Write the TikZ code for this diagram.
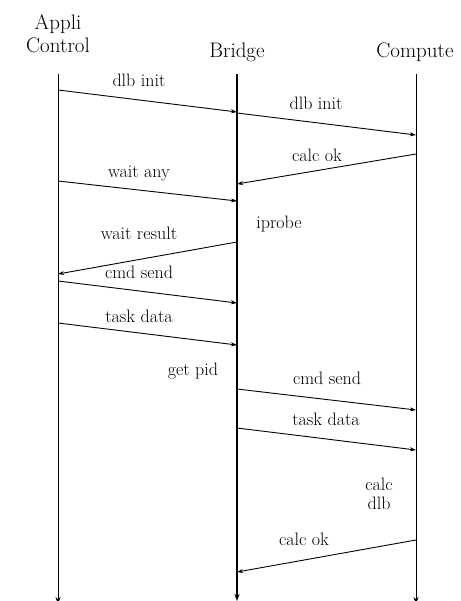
\documentclass[tikz,border=0pt]{standalone}
\usetikzlibrary{arrows.meta}
\begin{document}
\begin{tikzpicture}[x=1pt,y=-1pt,
  head/.style={font=\fontsize{21}{23}\selectfont, align=center, inner sep=0pt},
  lbl/.style={font=\fontsize{18}{19}\selectfont, inner sep=0pt},
  life/.style={line width=1pt, -{Stealth[length=7pt,width=5pt]}},
  msg/.style={line width=0.9pt, -{Stealth[length=6pt,width=4pt]}}]
\useasboundingbox (0,0) rectangle (460,601);

% headers
\node[head] (hA) at (58,34) {Appli\\Control};
\node[head] (hB) at (237,52) {Bridge};
\node[head] (hC) at (415,52) {Compute};

% lifelines
\coordinate (A0) at (58,74);  \coordinate (A1) at (58,604);
\coordinate (B0) at (237,74); \coordinate (B1) at (237,601);
\coordinate (C0) at (416,74); \coordinate (C1) at (416,604);
\draw[life, line width=0.8pt] (A0) -- (A1);
\draw[life, line width=1.3pt] (B0) -- (B1);
\draw[life] (C0) -- (C1);

% message end points
\coordinate (m1s) at (58,90);   \coordinate (m1e) at (237,112);
\coordinate (m2s) at (237,113); \coordinate (m2e) at (416,135);
\coordinate (m3s) at (416,154); \coordinate (m3e) at (237,184);
\coordinate (m4s) at (58,181);  \coordinate (m4e) at (237,201);
\coordinate (m5s) at (237,242); \coordinate (m5e) at (58,274);
\coordinate (m6s) at (58,281);  \coordinate (m6e) at (237,303);
\coordinate (m7s) at (58,323);  \coordinate (m7e) at (237,345);
\coordinate (m8s) at (237,389); \coordinate (m8e) at (416,410);
\coordinate (m9s) at (237,428); \coordinate (m9e) at (416,450);
\coordinate (m10s) at (416,540); \coordinate (m10e) at (237,572);

% messages
\draw[msg] (m1s) -- (m1e);
\draw[msg] (m2s) -- (m2e);
\draw[msg] (m3s) -- (m3e);
\draw[msg] (m4s) -- (m4e);
\draw[msg] (m5s) -- (m5e);
\draw[msg] (m6s) -- (m6e);
\draw[msg] (m7s) -- (m7e);
\draw[msg] (m8s) -- (m8e);
\draw[msg] (m9s) -- (m9e);
\draw[msg] (m10s) -- (m10e);

% labels
\node[lbl] (l1) at (139,80) {dlb init};
\node[lbl] (l2) at (316,103) {dlb init};
\node[lbl] (l3) at (317,155) {calc ok};
\node[lbl] (l4) at (139,174) {wait any};
\node[lbl] (l5) at (279,224) {iprobe};
\node[lbl] (l6) at (139,233) {wait result};
\node[lbl] (l7) at (139,272) {cmd send};
\node[lbl] (l8) at (139,316) {task data};
\node[lbl] (l9) at (193,371) {get pid};
\node[lbl] (l10) at (327,378) {cmd send};
\node[lbl] (l11) at (326,419) {task data};
\node[lbl, align=center] (l12) at (379,494) {calc\\dlb};
\node[lbl] (l13) at (304,539) {calc ok};
\end{tikzpicture}
\end{document}
